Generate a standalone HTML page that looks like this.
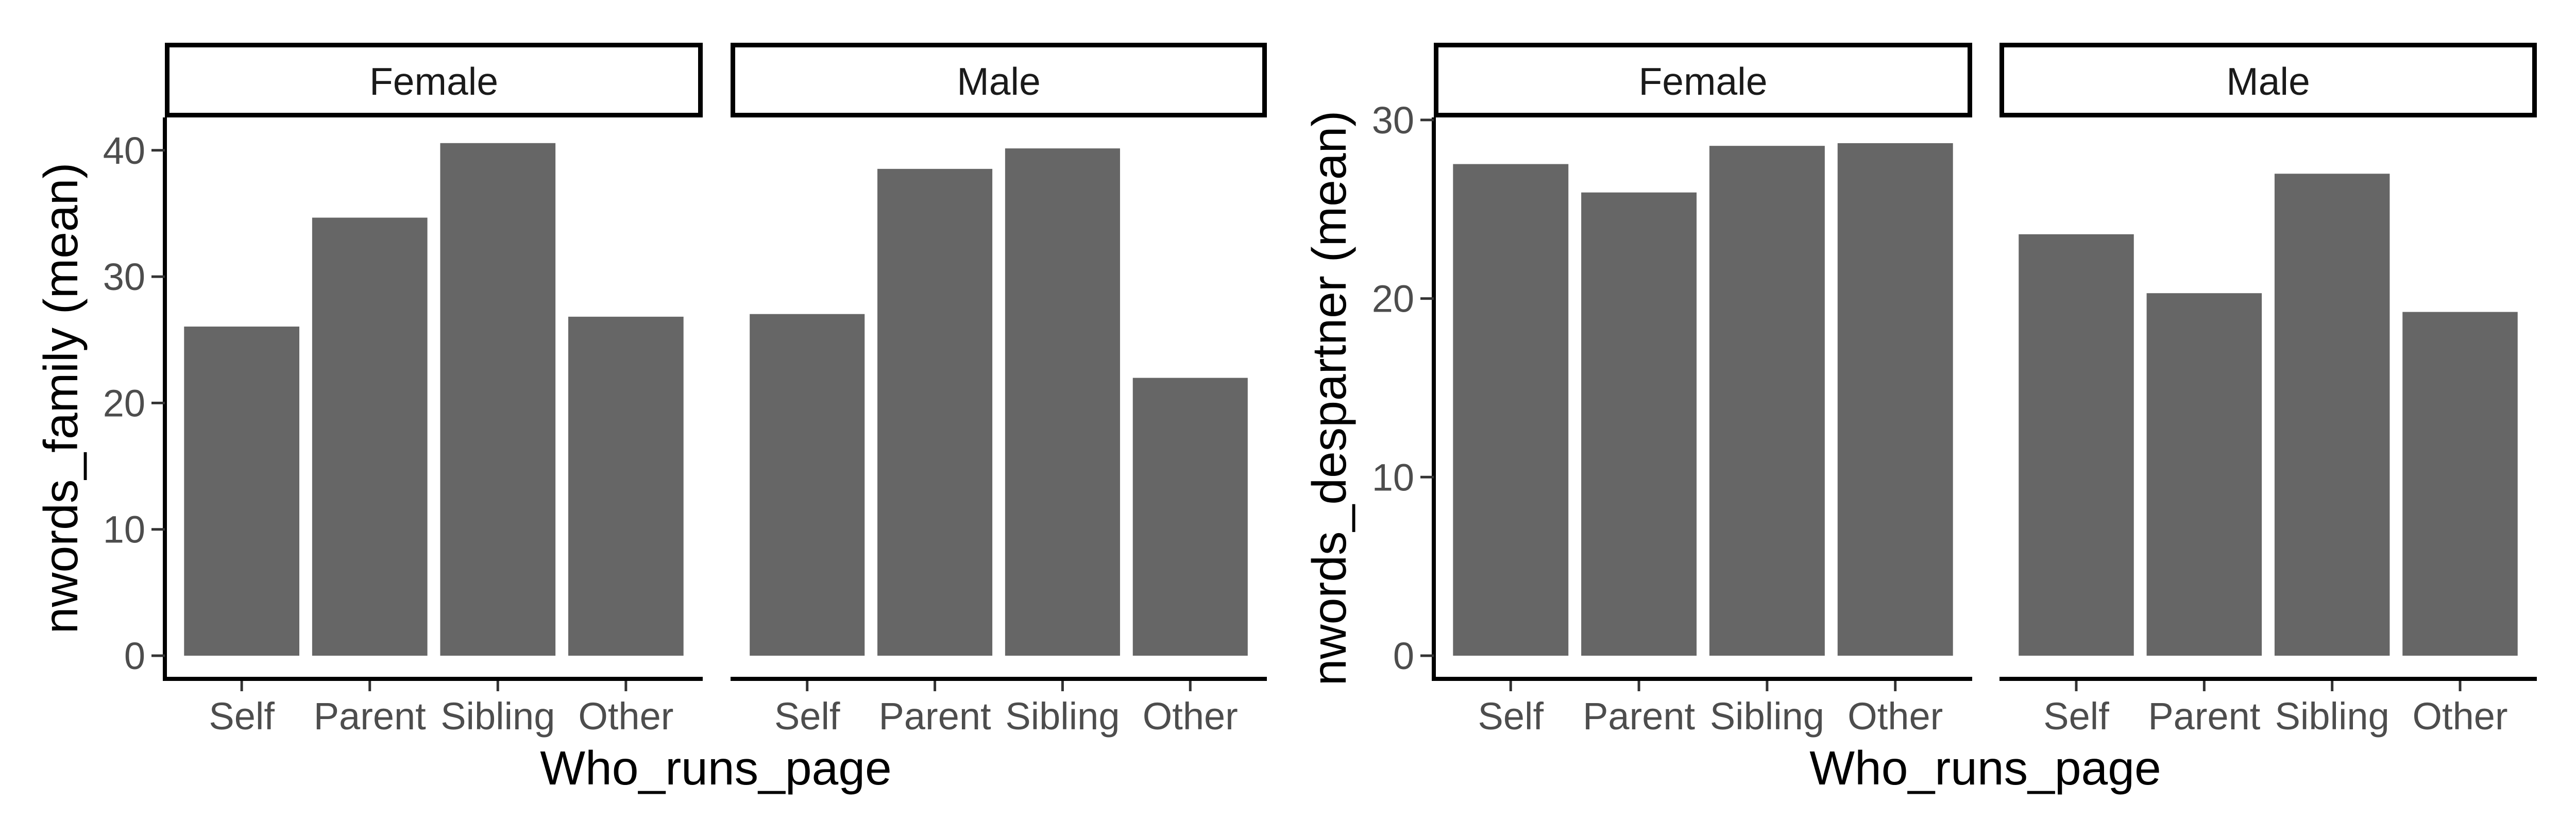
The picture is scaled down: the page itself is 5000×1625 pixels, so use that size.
<!DOCTYPE html>
<html><head><meta charset="utf-8"><style>
html,body{margin:0;padding:0;background:#fff}
svg{display:block}
text{font-family:"Liberation Sans",Arial,sans-serif}
</style></head><body>
<svg id="chart" width="5000" height="1625" viewBox="0 0 5000 1625" xmlns="http://www.w3.org/2000/svg"></svg>
<script>
const categories = ["Self","Parent","Sibling","Other"];
const facets = ["Female","Male"];
const familyFemale = [26.05, 34.67, 40.57, 26.83];
const familyMale = [27.04, 38.53, 40.15, 21.99];
const despFemale = [27.53, 25.94, 28.55, 28.70];
const despMale = [23.60, 20.30, 26.99, 19.25];
const familyTicks = [0,10,20,30,40];
const despTicks = [0,10,20,30];

const NS = "http://www.w3.org/2000/svg";
const svg = document.getElementById('chart');
function el(tag, attrs, parent){
  const e = document.createElementNS(NS, tag);
  for (const k in attrs) e.setAttribute(k, attrs[k]);
  (parent||svg).appendChild(e);
  return e;
}

function drawChart(cfg){
  const g = el('g', {});
  
  
  const y0 = 1273, top = 228, bottom = 1318;
  const yScale = v => y0 - v * cfg.pxPerUnit;
  // y-axis
  const yax = el('line', {x1:cfg.axisX, y1:top, x2:cfg.axisX, y2:1322, stroke:'#000', 'stroke-width':8}, g);
  
  
  cfg.ticks.forEach(t => {
    const y = yScale(t);
    const tk = el('line', {x1:cfg.axisX-26, y1:y, x2:cfg.axisX, y2:y, stroke:'#333', 'stroke-width':5}, g);
    
    
    const tl = el('text', {x:cfg.axisX-38, y:y+26, 'text-anchor':'end', 'font-size':74, fill:'#4d4d4d'}, g);
    tl.textContent = t;
    
    
  });
  const yt = el('text', {x:0, y:0, 'text-anchor':'middle', 'font-size':93, fill:'#000', transform:`translate(${cfg.titleX},${(top+bottom)/2}) rotate(-90)`}, g);
  yt.textContent = cfg.yTitle;
  
  

  cfg.panels.forEach((p, pi) => {
    const step = (p.x1 - p.x0) / 4.2;
    const xc = i => p.x0 + step * (0.6 + i);
    // strip
    const sr = el('rect', {x:p.x0+4.5, y:87.5, width:p.x1-p.x0-9, height:136, fill:'#fff', stroke:'#000', 'stroke-width':9}, g);
    
    
    const st = el('text', {x:(p.x0+p.x1)/2, y:184, 'text-anchor':'middle', 'font-size':75, fill:'#1a1a1a'}, g);
    st.textContent = facets[pi];
    
    
    // bars
    p.values.forEach((v, i) => {
      const bw = step * 0.9;
      const b = el('rect', {x:xc(i)-bw/2, y:yScale(v), width:bw, height:y0-yScale(v), fill:'#666666'}, g);
      
      
    });
    // x axis
    const xa = el('line', {x1:(pi===0?cfg.axisX-4:p.x0), y1:1318, x2:p.x1, y2:1318, stroke:'#000', 'stroke-width':8}, g);
    
    
    categories.forEach((c, i) => {
      const tk = el('line', {x1:xc(i), y1:1322, x2:xc(i), y2:1342, stroke:'#333', 'stroke-width':5}, g);
      
      
      const tl = el('text', {x:xc(i), y:1416, 'text-anchor':'middle', 'font-size':74, fill:'#4d4d4d'}, g);
      tl.textContent = c;
      
      
    });
  });
  const xt = el('text', {x:(cfg.panels[0].x0+cfg.panels[1].x1)/2, y:1523, 'text-anchor':'middle', 'font-size':93, fill:'#000'}, g);
  xt.textContent = 'Who_runs_page';
  
  
}

drawChart({name:'nwords-family-chart', axisX:320, titleX:150, pxPerUnit:24.53, ticks:familyTicks,
  yTitle:'nwords_family (mean)',
  panels:[{x0:320,x1:1364,values:familyFemale},{x0:1418,x1:2459,values:familyMale}]});
drawChart({name:'nwords-despartner-chart', axisX:2783, titleX:2612, pxPerUnit:34.67, ticks:despTicks,
  yTitle:'nwords_despartner (mean)',
  panels:[{x0:2783,x1:3828,values:despFemale},{x0:3881,x1:4924,values:despMale}]});
</script>
</body></html>
